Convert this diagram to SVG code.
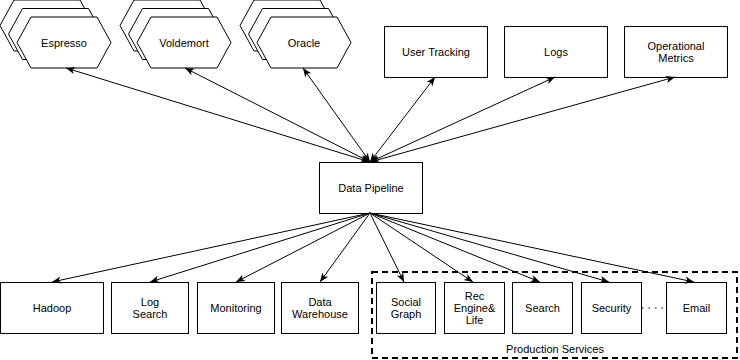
<svg xmlns="http://www.w3.org/2000/svg" width="740" height="360" viewBox="0 0 740 360">
<defs>
<style>
.n{fill:#fff;stroke:#000;stroke-width:1}
.t{font-family:"Liberation Sans",Arial,sans-serif;font-size:11px;fill:#000;text-anchor:middle;dominant-baseline:central}
.e{stroke:#000;stroke-width:1;fill:none}
</style>
<marker id="a" viewBox="0 0 10 10" refX="10" refY="5" markerWidth="9" markerHeight="9" markerUnits="userSpaceOnUse" orient="auto-start-reverse">
<path d="M0,1 L10,5 L0,9 L2.5,5 z" fill="#000"/>
</marker>
<polygon id="hex" points="0,25.5 14,0 80,0 94,25.5 80,51 14,51"/>
</defs>
<rect width="740" height="360" fill="#fff"/>

<g id="espresso">
<use href="#hex" class="n" x="0" y="0"/>
<use href="#hex" class="n" x="8.5" y="8.5"/>
<use href="#hex" class="n" x="17" y="17"/>
<text class="t" x="64" y="43">Espresso</text>
</g>
<g id="voldemort">
<use href="#hex" class="n" x="120" y="0"/>
<use href="#hex" class="n" x="128.5" y="8.5"/>
<use href="#hex" class="n" x="137" y="17"/>
<text class="t" x="184" y="43">Voldemort</text>
</g>
<g id="oracle">
<use href="#hex" class="n" x="240" y="0"/>
<use href="#hex" class="n" x="248.5" y="8.5"/>
<use href="#hex" class="n" x="257" y="17"/>
<text class="t" x="304" y="43">Oracle</text>
</g>

<g id="user-tracking"><rect class="n" x="384.5" y="26.5" width="103" height="51"/><text class="t" x="436" y="52">User Tracking</text></g>
<g id="logs"><rect class="n" x="504.5" y="26.5" width="103" height="51"/><text class="t" x="556" y="52">Logs</text></g>
<g id="operational-metrics"><rect class="n" x="624.5" y="26.5" width="103" height="51"/><text class="t" x="676" y="46">Operational</text><text class="t" x="676" y="58">Metrics</text></g>

<g id="data-pipeline"><rect class="n" x="319.5" y="162.5" width="103" height="51"/><text class="t" x="371" y="188">Data Pipeline</text></g>

<g id="production-services"><rect x="372" y="272" width="365" height="86" fill="none" stroke="#000" stroke-width="2" stroke-dasharray="6 4"/><text class="t" x="555" y="349">Production Services</text></g>

<g id="hadoop"><rect class="n" x="0.5" y="282.5" width="103" height="51"/><text class="t" x="52" y="308">Hadoop</text></g>
<g id="log-search"><rect class="n" x="111.5" y="282.5" width="77" height="51"/><text class="t" x="150" y="302">Log</text><text class="t" x="150" y="314">Search</text></g>
<g id="monitoring"><rect class="n" x="197.5" y="282.5" width="77" height="51"/><text class="t" x="236" y="308">Monitoring</text></g>
<g id="data-warehouse"><rect class="n" x="281.5" y="282.5" width="77" height="51"/><text class="t" x="320" y="302">Data</text><text class="t" x="320" y="314">Warehouse</text></g>
<g id="social-graph"><rect class="n" x="376.5" y="282.5" width="59" height="51"/><text class="t" x="406" y="302">Social</text><text class="t" x="406" y="314">Graph</text></g>
<g id="rec-engine"><rect class="n" x="444.5" y="282.5" width="60" height="51"/><text class="t" x="474.5" y="296">Rec</text><text class="t" x="474.5" y="308">Engine&amp;</text><text class="t" x="474.5" y="320">Life</text></g>
<g id="search"><rect class="n" x="512.5" y="282.5" width="60" height="51"/><text class="t" x="542.5" y="308">Search</text></g>
<g id="security"><rect class="n" x="581.5" y="282.5" width="60" height="51"/><text class="t" x="611.5" y="308">Security</text></g>
<g id="email"><rect class="n" x="666.5" y="282.5" width="60" height="51"/><text class="t" x="696.5" y="308">Email</text></g>

<g id="connectors">
<line class="e" x1="370" y1="162" x2="66" y2="68" marker-start="url(#a)" marker-end="url(#a)"/>
<line class="e" x1="370" y1="162" x2="185" y2="68" marker-start="url(#a)" marker-end="url(#a)"/>
<line class="e" x1="370" y1="162" x2="303" y2="68" marker-start="url(#a)" marker-end="url(#a)"/>
<line class="e" x1="370" y1="162" x2="435" y2="77" marker-start="url(#a)" marker-end="url(#a)"/>
<line class="e" x1="370" y1="162" x2="555" y2="77" marker-start="url(#a)" marker-end="url(#a)"/>
<line class="e" x1="370" y1="162" x2="675" y2="77" marker-start="url(#a)" marker-end="url(#a)"/>
<line class="e" x1="370" y1="213" x2="52" y2="282" marker-end="url(#a)"/>
<line class="e" x1="370" y1="213" x2="150" y2="282" marker-end="url(#a)"/>
<line class="e" x1="370" y1="213" x2="236" y2="282" marker-end="url(#a)"/>
<line class="e" x1="370" y1="213" x2="320" y2="282" marker-end="url(#a)"/>
<line class="e" x1="370" y1="213" x2="404" y2="282" marker-end="url(#a)"/>
<line class="e" x1="370" y1="213" x2="473" y2="282" marker-end="url(#a)"/>
<line class="e" x1="370" y1="213" x2="540" y2="282" marker-end="url(#a)"/>
<line class="e" x1="370" y1="213" x2="609" y2="282" marker-end="url(#a)"/>
<line class="e" x1="370" y1="213" x2="694" y2="282" marker-end="url(#a)"/>
<line class="e" x1="642" y1="308" x2="666" y2="308" stroke-dasharray="1.5 5"/>
</g>
</svg>
